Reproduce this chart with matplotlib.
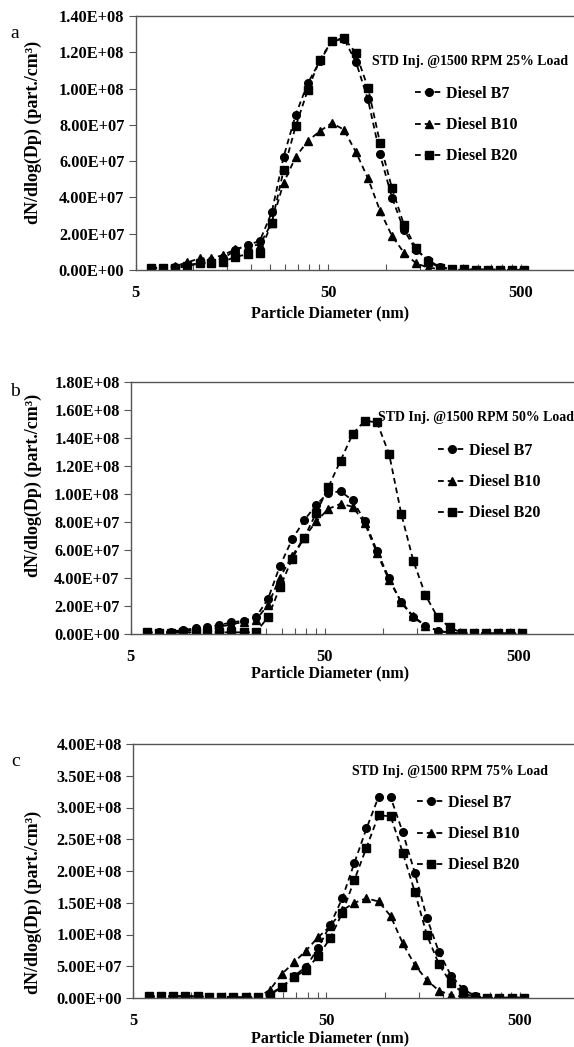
import numpy as np
import matplotlib
matplotlib.use("Agg")
import matplotlib.pyplot as plt
from matplotlib.ticker import FixedLocator, FuncFormatter, NullFormatter

plt.rcParams['font.family'] = ['Liberation Serif', 'DejaVu Serif']
plt.rcParams['font.weight'] = 'bold'

# EEPS channel mid-point diameters (nm)
diam = [6.04, 6.98, 8.06, 9.31, 10.8, 12.4, 14.3, 16.5, 19.1, 22.1, 25.5, 29.4,
        34.0, 39.2, 45.3, 52.3, 60.4, 69.8, 80.6, 93.1, 107.5, 124.1, 143.3,
        165.5, 191.1, 220.7, 254.8, 294.3, 339.8, 392.4, 453.2, 523.3]

# panel a: 25% load (x1e6 part./cm3)
a_b7 = [1.3, 1.3, 1.8, 2.8, 3.7, 4.6, 6.4, 11, 13.8, 16, 31.7, 62.4, 85.7, 102.8, 115, 126,
        127.5, 114.7, 94, 63.7, 39.8, 22, 11, 5.5, 1.5, 0.5, 0.3, 0.2, 0.2, 0.2, 0.2, 0.2]
a_b10 = [0.9, 1.3, 2.2, 4.2, 6.5, 6.4, 8.3, 11.4, 13.5, 13.8, 26, 48, 62.4, 71, 76.5, 81,
         77.4, 65, 50.5, 32.7, 18.7, 9.5, 3.7, 1.3, 0.5, 0.2, 0.2, 0.2, 0.1, 0.1, 0.1, 0.1]
a_b20 = [0.9, 0.9, 0.9, 2.2, 3.7, 3.7, 4.6, 7.3, 8.6, 9.5, 26, 55, 79.4, 99, 116, 126,
         128, 119.5, 100.5, 70.2, 45, 24.8, 12, 4.6, 1.3, 0.4, 0.3, 0.2, 0.2, 0.2, 0.2, 0.2]

# panel b: 50% load
b_b7 = [1.2, 1.2, 1.7, 2.9, 4.0, 4.8, 6.4, 8.3, 9.5, 12, 25, 48.7, 67.7, 81.2, 92.6, 101,
        102, 95.5, 80.7, 59.4, 39.7, 22.6, 11.9, 5.9, 2.4, 1.0, 0.5, 0.2, 0.2, 0.2, 0.2, 0.2]
b_b10 = [1.0, 1.2, 1.2, 2.1, 2.9, 3.6, 4.8, 7.0, 8.5, 10.0, 20.7, 40.4, 55.8, 68.9, 80.7, 89.5,
         93.1, 91, 79.1, 57.7, 38.5, 23, 12.6, 5.9, 2.4, 0.7, 0.3, 0.2, 0.2, 0.2, 0.2, 0.2]
b_b20 = [1.2, 0.7, 0.7, 1.2, 1.2, 1.2, 1.2, 1.2, 1.2, 1.2, 11.9, 33.3, 53.9, 68.9, 86.7, 105.2,
         124, 143.2, 152.5, 151.3, 128.7, 86, 52.3, 27.8, 11.9, 4.8, 0.7, 0.5, 0.5, 0.5, 0.5, 0.5]

# panel c: 75% load
c_b7 = [2.5, 2.5, 3, 3, 2.5, 2, 1.5, 1, 1, 1, 7, 17, 34.6, 49, 78.5, 115, 157, 213, 267, 317,
        316, 261, 197, 126, 72, 35, 14, 3, 0.5, 0.5, 0.5, 0.5]
c_b10 = [1.5, 1.5, 2, 2, 2, 1.5, 1, 0.5, 0.5, 1, 12.6, 37.8, 56, 74.5, 95.6, 113, 138, 150,
         157, 152, 129, 86, 52, 28, 11.5, 4.7, 1.5, 0.5, 0.3, 0.3, 0.3, 0.3]
c_b20 = [2.5, 2.5, 3, 3, 2.5, 2, 1.5, 1, 1, 1, 4.7, 17, 33, 44, 66, 94, 134, 186, 237, 288,
         286, 229, 167, 99, 53, 23, 8, 1, 0.5, 0.5, 0.5, 0.5]

labels = ['Diesel B7', 'Diesel B10', 'Diesel B20']
markers = ['o', '^', 's']
loads = ['25%', '50%', '75%']
ymaxs = [1.4e8, 1.8e8, 4.0e8]
ysteps = [2e7, 2e7, 5e7]
panel_data = [(a_b7, a_b10, a_b20), (b_b7, b_b10, b_b20), (c_b7, c_b10, c_b20)]

W, H = 574, 1047
# pixel boxes: left, top, bottom, x of 1000 nm
boxes = [(135.5, 16, 270, 578.5), (130.7, 382.3, 634, 577), (133, 744, 998, 578)]
letters = [('a', 10, 33), ('b', 10, 392), ('c', 11, 762)]
title_pos = [(372, 61), (378, 417), (352, 772)]
legend_pos = [(415, 86), (438, 443), (417, 795)]
xlabel_y = [313, 673, 1038]
ylabel_pos = [(33, 132), (33, 485), (33, 902)]

fig = plt.figure(figsize=(W / 100, H / 100), dpi=100)

for i in range(3):
    left, top, bottom, right = boxes[i]
    ax = fig.add_axes([left / W, 1 - bottom / H, (right - left) / W, (bottom - top) / H])
    for j in range(3):
        vals = np.array(panel_data[i][j]) * 1e6
        ax.plot(diam, vals, color='black', linestyle=(0, (3.2, 2.2)), linewidth=1.3,
                marker=markers[j], markersize=5.5 if j != 1 else 6, label=labels[j])
    ax.set_xscale('log')
    ax.set_xlim(5, 1000)
    ax.set_ylim(0, ymaxs[i])
    ax.xaxis.set_major_locator(FixedLocator([5, 50, 500]))
    ax.xaxis.set_major_formatter(FuncFormatter(lambda v, p: '%d' % v))
    minors = list(range(10, 50, 5)) + list(range(100, 500, 50))
    ax.xaxis.set_minor_locator(FixedLocator(minors))
    ax.xaxis.set_minor_formatter(NullFormatter())
    ax.yaxis.set_major_locator(FixedLocator(np.arange(0, ymaxs[i] + 1, ysteps[i])))
    ax.yaxis.set_major_formatter(FuncFormatter(lambda v, p: '%.2E' % v))
    ax.tick_params(axis='x', which='both', direction='in', length=4, width=0.8,
                   labelsize=11.8, pad=11, color='#555555')
    ax.tick_params(axis='y', which='major', direction='out', length=5, width=0.8,
                   labelsize=11.8, pad=3, color='#555555')
    for sp in ax.spines.values():
        sp.set_color('#555555')
        sp.set_linewidth(1.0)

    fig.text(330 / W, 1 - xlabel_y[i] / H, 'Particle Diameter (nm)', fontsize=11.5,
             fontweight='bold', ha='center', va='center')
    fig.text(ylabel_pos[i][0] / W, 1 - ylabel_pos[i][1] / H,
             'dN/dlog(Dp) (part./cm³)', fontsize=13, fontweight='bold',
             rotation=90, ha='center', va='center')

    fig.text(title_pos[i][0] / W, 1 - title_pos[i][1] / H,
             'STD Inj. @1500 RPM %s Load' % loads[i], fontsize=10, fontweight='bold',
             va='center', ha='left')
    ax.legend(loc='upper left', bbox_to_anchor=(legend_pos[i][0] / W, 1 - legend_pos[i][1] / H),
              bbox_transform=fig.transFigure, frameon=False, fontsize=11.5,
              handlelength=1.7, handletextpad=0.25, labelspacing=0.95,
              borderaxespad=0, borderpad=0)
    fig.text(letters[i][1] / W, 1 - letters[i][2] / H, letters[i][0], fontsize=14,
             fontweight='normal', va='center', ha='left')

fig.savefig('out.png', dpi=100)
